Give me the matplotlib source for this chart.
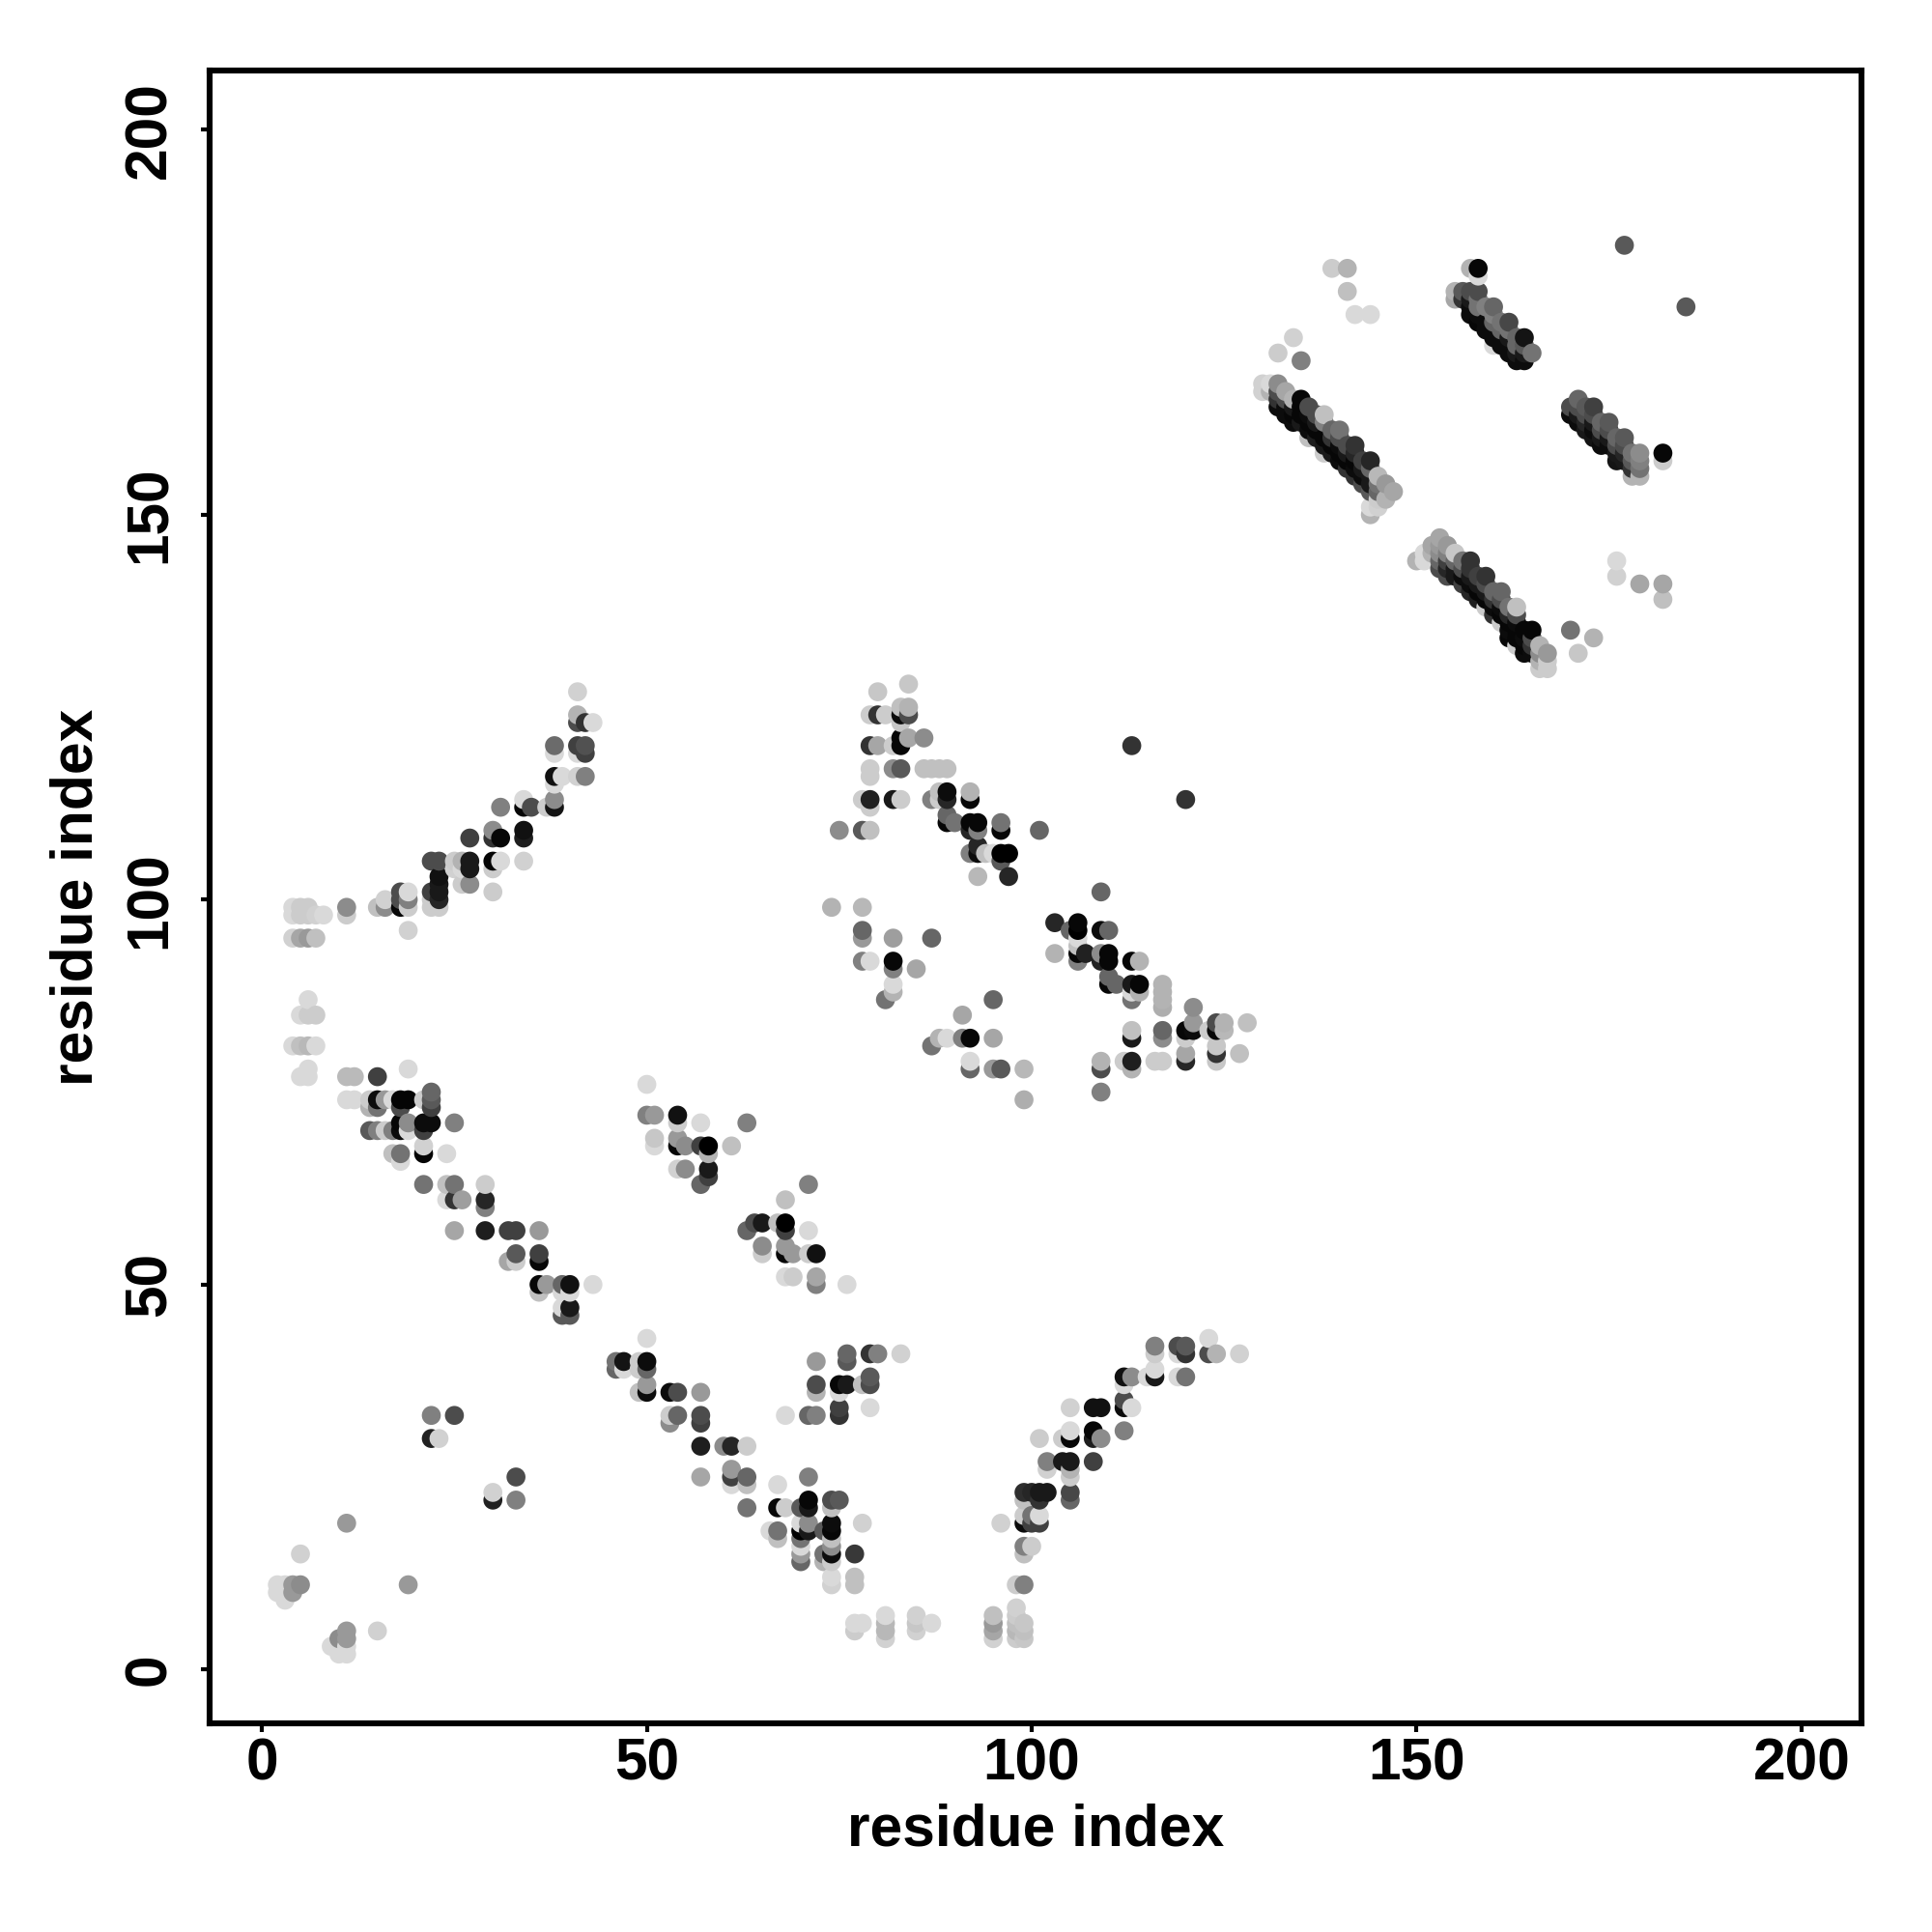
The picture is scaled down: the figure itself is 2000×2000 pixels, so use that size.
import numpy as np
from matplotlib import pyplot as plt

# contacts as (residue i, residue j, grey level)
lower_chain = [
	(6,87,.85),(5,85,.85),(6,85,.8),(7,85,.8),(4,81,.85),(5,81,.75),(6,81,.72),(7,81,.85),
	(5,77,.85),(6,77,.85),(6,78,.85),(11,77,.73),(12,77,.73),(15,77,.25),(19,78,.85),
	(11,74,.85),(12,74,.85),(14,74,.8),(15,74,.05),(16,74,.6),(17,74,.85),(18,74,.02),(19,74,.02),(21,74,.8),(22,74,.35),
	(14,73,.7),(15,73,.45),(18,73,.3),(22,73,.25),(22,75,.4),
	(18,71,.03),(19,71,.55),(21,71,.05),(22,71,.05),(25,71,.5),
	(14,70,.35),(15,70,.5),(16,70,.8),(17,70,.5),(18,70,.05),(19,70,.85),(21,70,.25),
	(17,67,.75),(18,67,.45),(21,67,.02),(24,67,.85),(21,68,.82),(18,66,.85),
	(21,63,.45),(24,63,.75),(25,63,.45),(29,63,.8),(24,61,.85),(25,61,.2),(26,61,.62),(29,61,.15),(29,60,.5),
	(25,57,.65),(29,57,.12),(32,57,.25),(33,57,.25),(36,57,.6),
	(33,54,.35),(36,54,.25),(32,53,.65),(33,53,.8),(36,53,.03),
	(36,50,.03),(37,50,.6),(39,50,.4),(40,50,.07),(43,50,.85),(36,49,.75),(39,49,.85),(40,49,.85),
	(39,47,.85),(40,47,.1),(39,46,.35),(40,46,.35),
]
upper_curve = [
	(41,127,.82),(41,124,.7),(41,123,.3),(42,123,.2),(43,123,.85),
	(38,120,.42),(41,120,.25),(42,120,.32),(38,119,.85),(41,119,.85),(42,119,.25),
	(38,116,.07),(39,116,.85),(41,116,.82),(42,116,.5),(38,115,.85),
	(34,113,.85),(38,113,.55),(31,112,.5),(34,112,.03),(35,112,.3),(37,112,.8),(38,112,.08),
	(30,109,.55),(34,109,.07),(27,108,.25),(30,108,.2),(31,108,.03),(34,108,.12),
	(22,105,.3),(23,105,.3),(25,105,.8),(26,105,.7),(27,105,.1),(30,105,.02),(31,105,.85),(34,105,.82),
	(25,104,.82),(26,104,.85),(27,104,.1),(30,104,.8),(23,103,.07),(26,102,.8),(27,102,.55),
	(22,101,.25),(23,102,.1),(23,101,.1),(30,101,.8),(22,100,.8),(23,100,.15),(22,99,.8),(23,99,.8),
	(19,101,.85),(18,101,.3),(18,100,.3),(18,99,.03),(19,99,.8),(19,100,.5),
	(15,99,.75),(16,99,.55),(16,100,.82),(11,99,.55),(11,98,.8),(19,96,.82),
	(4,99,.85),(4,98,.85),(5,99,.8),(5,98,.8),(6,99,.8),(6,98,.8),(7,98,.82),(8,98,.85),
	(4,95,.82),(5,95,.65),(6,95,.6),(7,95,.75),
]
mid_strand = [
	(50,76,.85),(50,72,.5),(51,72,.6),(54,72,.07),(54,71,.8),(57,71,.85),(63,71,.5),
	(51,69,.78),(51,68,.85),(54,69,.6),(54,68,.03),(55,68,.55),(57,68,.25),(58,68,.0),(61,68,.75),(58,67,.7),
	(54,65,.82),(55,65,.55),(58,65,.1),(58,64,.25),(57,63,.4),(71,63,.5),(68,61,.75),
	(64,58,.3),(65,58,.1),(67,58,.75),(68,58,.0),(68,57,.25),(63,57,.4),(71,57,.85),
	(65,55,.55),(65,54,.8),(68,55,.6),(68,54,.03),(69,54,.6),(71,54,.8),(72,54,.07),
	(68,51,.85),(69,51,.8),(72,51,.65),(72,50,.5),(76,50,.85),
]
lower_left = [
	(22,33,.5),(25,33,.3),(22,30,.13),(23,30,.82),(33,25,.3),(30,23,.82),(30,22,.13),(33,22,.5),
	(11,19,.6),(5,15,.82),(2,11,.85),(3,11,.85),(4,11,.6),(5,11,.55),(2,10,.85),(3,10,.85),(4,10,.6),(3,9,.85),
	(19,11,.6),(15,5,.82),(11,5,.6),(10,4,.55),(11,4,.6),(9,3,.85),(10,3,.85),(11,3,.85),(10,2,.85),(11,2,.85),
]
lower_diag = [
	(50,43,.85),(46,40,.45),(46,39,.4),(47,40,.08),(47,39,.85),(49,40,.8),(50,40,.05),(49,39,.8),(50,39,.4),
	(50,37,.6),(50,36,.05),(49,36,.75),(53,36,.05),(54,36,.3),(57,36,.6),
	(53,33,.8),(53,32,.55),(54,33,.4),(57,33,.3),(57,32,.25),
	(57,29,.12),(60,29,.55),(61,29,.15),(63,29,.8),(57,25,.65),(61,26,.6),(61,25,.25),(61,24,.85),(63,25,.4),(63,24,.75),
	(63,21,.45),(67,24,.85),(71,25,.5),(67,21,.03),(68,21,.8),(70,21,.35),(71,22,.03),(71,21,.1),(74,22,.3),(75,22,.35),(74,21,.75),
	(66,18,.85),(67,18,.45),(67,17,.75),(70,19,.85),(71,19,.55),(70,18,.0),(71,18,.1),(73,18,.35),(74,19,.05),(74,18,.03),
	(70,17,.45),(70,16,.85),(70,15,.6),(70,14,.4),(74,17,.75),(74,16,.55),(74,15,.05),(73,15,.45),(73,14,.7),(74,14,.8),(77,15,.22),(78,19,.82),
	(74,12,.85),(74,11,.82),(77,12,.75),(77,11,.75),(77,6,.85),(78,6,.85),(77,5,.8),
	(81,7,.85),(81,6,.72),(81,5,.72),(81,4,.82),(85,7,.82),(85,6,.78),(85,5,.82),(87,6,.85),
	(72,40,.6),(76,41,.4),(76,40,.35),(79,41,.2),(80,41,.5),(83,41,.82),
	(72,37,.3),(72,36,.7),(75,37,.03),(76,37,.1),(75,36,.85),(78,37,.75),(79,38,.35),(79,37,.3),(79,34,.85),
	(75,34,.25),(75,33,.2),(71,33,.4),(72,33,.5),(68,33,.85),
]
lower_arc = [
	(127,41,.82),(124,41,.7),(123,43,.85),(123,41,.3),(120,42,.35),(119,42,.3),(120,41,.2),(119,41,.85),
	(116,42,.5),(116,41,.8),(120,38,.45),(119,38,.85),(116,39,.85),(116,38,.1),(115,38,.85),
	(113,38,.55),(112,38,.07),(112,37,.85),(112,35,.3),(112,34,.05),(113,34,.85),(112,31,.5),
	(109,34,.07),(108,34,.07),(105,34,.82),(108,31,.03),(108,30,.12),(109,30,.55),
	(105,31,.85),(105,30,.03),(104,30,.8),(101,30,.8),(108,27,.25),(105,27,.1),(104,27,.1),(102,27,.5),(102,26,.82),(105,26,.7),(105,25,.8),
	(105,23,.28),(105,22,.4),(102,23,.1),(101,23,.1),(100,23,.15),(99,23,.18),(101,22,.2),(99,22,.75),
	(99,20,.8),(101,20,.85),(100,20,.45),(99,19,.05),(100,19,.25),(101,19,.25),(96,19,.82),
	(99,16,.5),(100,16,.8),(99,15,.75),(98,11,.8),(99,11,.5),
	(95,7,.75),(95,6,.6),(95,5,.65),(95,4,.82),(98,8,.82),(98,7,.8),(98,6,.75),(98,5,.72),(98,4,.8),(99,6,.78),(99,5,.75),(99,4,.78),
]
upper_mid = [
	(84,128,.78),(80,127,.78),(79,124,.8),(80,124,.2),(81,124,.8),(83,125,.75),(84,125,.7),(83,124,.05),(84,124,.3),(83,123,.78),
	(83,121,.03),(84,121,.65),(86,121,.55),(83,120,.03),(79,120,.2),(80,120,.65),(82,120,.8),
	(79,117,.8),(79,116,.8),(82,117,.55),(83,117,.35),(86,117,.75),(87,117,.75),(88,117,.75),(89,117,.75),
	(89,114,.05),(88,114,.75),(89,113,.15),(87,113,.5),(88,113,.8),(92,114,.7),(92,113,.03),
	(78,113,.8),(79,113,.13),(79,112,.8),(82,113,.1),(83,113,.8),
	(89,111,.4),(90,110,.45),(89,110,.03),(92,110,.03),(93,110,.03),(92,109,.15),(93,109,.5),(96,110,.45),(96,109,.03),(101,109,.4),
	(75,109,.55),(78,109,.35),(79,109,.75),(93,107,.15),(92,106,.5),(93,106,.05),(94,106,.75),(95,106,.85),(96,106,.0),(97,106,.0),(96,105,.35),
	(93,103,.72),(97,103,.15),(113,120,.2),(120,113,.2),(74,99,.7),(78,99,.72),(109,101,.4),
	(78,96,.4),(78,95,.6),(82,95,.62),(87,95,.4),(103,97,.15),(106,97,.03),(105,96,.4),(106,96,.0),(109,96,.05),(110,96,.4),
	(106,95,.85),(106,94,.75),(103,93,.7),(106,93,.03),(107,93,.13),(109,93,.55),(110,93,.03),(110,92,.03),(109,92,.13),(106,92,.5),(113,92,.03),(114,92,.7),
	(78,92,.5),(79,92,.85),(82,92,.03),(82,91,.5),(85,91,.65),(82,89,.85),(82,88,.7),(81,87,.45),
	(110,90,.4),(111,89,.4),(110,89,.03),(113,89,.1),(114,89,.03),(113,88,.85),(114,88,.7),(113,87,.45),(117,89,.7),(117,88,.7),(117,87,.7),(117,86,.68),
	(121,86,.55),(121,84,.6),(124,84,.3),(125,84,.7),(128,84,.75),(125,83,.72),(124,83,.03),(123,83,.8),(120,83,.03),(121,83,.05),(120,82,.8),
	(117,83,.4),(117,82,.55),(113,83,.75),(113,82,.1),(120,80,.65),(120,79,.15),(124,81,.78),(124,80,.2),(124,79,.78),(127,80,.75),
	(113,79,.12),(112,79,.8),(116,79,.8),(117,79,.8),(113,78,.7),(109,79,.7),(109,78,.3),(109,75,.5),
	(95,87,.4),(91,85,.65),(88,82,.7),(87,81,.45),(89,82,.85),(91,82,.5),(92,82,.03),(95,82,.65),
	(92,79,.85),(92,78,.4),(95,78,.6),(96,78,.35),(99,78,.72),(99,74,.68),
]
band_one = [
	(132,171,.8),(135,170,.5),(134,173,.82),(139,182,.8),(141,182,.7),(141,179,.75),(142,176,.85),(144,176,.85),
	(130,167,.82),(130,166,.82),(131,167,.85),(131,166,.7),
	(132,167,.55),(132,166,.3),(132,165,.2),(132,164,.05),(133,166,.65),(133,165,.3),(133,164,.05),(133,163,.05),
	(134,165,.7),(134,164,.1),(134,163,.03),(134,162,.05),(135,165,.03),(135,164,.03),(135,163,.03),(135,162,.1),
	(136,164,.3),(136,163,.05),(136,162,.03),(136,161,.05),(136,160,.75),(137,163,.3),(137,162,.1),(137,161,.03),(137,160,.12),
	(138,163,.75),(138,162,.5),(138,160,.03),(138,159,.1),(138,158,.8),(139,161,.4),(139,160,.2),(139,159,.03),(139,158,.1),
	(140,161,.45),(140,160,.3),(140,159,.05),(140,158,.03),(140,157,.05),(141,159,.3),(141,158,.1),(141,157,.03),(141,156,.2),
	(142,159,.2),(142,158,.15),(142,157,.03),(142,156,.05),(142,155,.2),(143,157,.25),(143,156,.1),(143,155,.05),(143,154,.3),
	(144,157,.15),(144,156,.4),(144,155,.1),(144,154,.1),(144,153,.35),(145,155,.72),(145,154,.45),(145,153,.4),(145,152,.8),
	(146,154,.6),(147,153,.65),(146,152,.7),(145,151,.82),(144,151,.85),(144,150,.7),
]
band_two = [
	(150,144,.7),(151,145,.85),(151,144,.85),(152,146,.65),(152,145,.7),
	(153,147,.65),(153,146,.6),(153,145,.55),(153,144,.4),(153,143,.3),(154,146,.6),(154,145,.5),(154,144,.25),(154,143,.15),(154,142,.3),
	(155,145,.78),(155,144,.4),(155,143,.1),(155,142,.1),(156,144,.45),(156,143,.3),(156,142,.05),(156,141,.25),
	(157,144,.2),(157,143,.2),(157,142,.1),(157,141,.05),(157,140,.15),(158,142,.25),(158,141,.1),(158,140,.03),(158,139,.12),
	(159,142,.2),(159,141,.3),(159,140,.1),(159,139,.03),(159,138,.8),(160,140,.4),(160,139,.2),(160,138,.05),(160,137,.2),
	(161,140,.4),(161,139,.3),(161,138,.05),(161,137,.03),(161,136,.8),(162,138,.45),(162,137,.15),(162,136,.03),(162,135,.05),(162,134,.03),
	(163,138,.75),(163,137,.3),(163,136,.05),(163,135,.03),(163,134,.03),(163,133,.8),(164,135,.03),(164,134,.05),(164,133,.03),(164,132,.05),
	(165,135,.03),(165,134,.3),(165,133,.2),(165,132,.05),(166,133,.7),(166,132,.55),(166,131,.7),(166,130,.8),(167,132,.6),(167,131,.8),(167,130,.8),
	(170,135,.45),(173,134,.7),(171,132,.78),(176,144,.85),(176,142,.82),(179,141,.65),(182,141,.65),(182,139,.75),
]
band_three = [
	(177,185,.35),(185,177,.35),(157,182,.7),(158,182,.03),(158,181,.85),
	(155,179,.7),(155,178,.65),(156,179,.35),(156,178,.2),(157,179,.3),(157,178,.1),(157,177,.05),(157,176,.05),
	(158,179,.3),(158,178,.45),(158,177,.45),(158,176,.05),(158,175,.03),(159,177,.5),(159,175,.05),(159,174,.05),
	(160,177,.4),(160,176,.5),(160,175,.4),(160,174,.05),(160,173,.05),(160,172,.85),(161,175,.45),(161,174,.4),(161,173,.05),(161,172,.05),
	(162,175,.28),(162,174,.45),(162,173,.1),(162,172,.05),(162,171,.05),(163,173,.4),(163,172,.4),(163,171,.1),(163,170,.05),
	(164,173,.08),(164,172,.35),(164,171,.1),(164,170,.05),(165,171,.45),
]
band_four = [
	(170,164,.3),(170,163,.05),(171,165,.4),(171,164,.3),(171,163,.1),(171,162,.05),(172,164,.35),(172,163,.3),(172,162,.15),(172,161,.1),
	(173,164,.25),(173,163,.3),(173,162,.1),(173,161,.05),(173,160,.08),(174,162,.4),(174,161,.3),(174,160,.1),(174,159,.05),
	(175,162,.35),(175,161,.3),(175,160,.1),(175,159,.05),(176,160,.4),(176,159,.3),(176,158,.1),(176,157,.08),
	(177,160,.35),(177,159,.3),(177,158,.15),(177,157,.1),(178,158,.45),(178,157,.35),(178,156,.2),(178,155,.7),
	(179,158,.55),(179,157,.5),(179,156,.45),(179,155,.7),(182,158,.03),(182,157,.8),
]

x_ticks = [0, 50, 100, 150, 200]
y_ticks = [0, 50, 100, 150, 200]

plt.rcParams['font.family'] = ['Liberation Sans', 'DejaVu Sans']
plt.rcParams['font.weight'] = 'bold'

fig = plt.figure(figsize=(10, 10), dpi=200)
ax = fig.add_axes([0.1085, 0.108, 0.855, 0.8555])

pts = np.array(lower_chain + upper_curve + mid_strand + lower_left + lower_diag
	+ lower_arc + upper_mid + band_one + band_two + band_three + band_four)
order = np.lexsort((pts[:, 1], pts[:, 0])) # i first, then j, as the overlaps show
pts = pts[order]

ax.scatter(pts[:, 0], pts[:, 1], c=pts[:, 2], cmap='gray', vmin=0, vmax=1, s=50, linewidths=0)

ax.set_xlim(-6.8, 207.8)
ax.set_ylim(-7, 207.7)
ax.set_xticks(x_ticks)
ax.set_yticks(y_ticks)
ax.tick_params(axis='both', length=3.2, width=1.5, labelsize=21.8)
ax.tick_params(axis='x', pad=2)
ax.tick_params(axis='y', pad=8.5)
for lab in ax.get_yticklabels():
	lab.set_rotation(90)
	lab.set_va('center')

for s in ax.spines.values():
	s.set_linewidth(2.2)

ax.set_xlabel('residue index', fontsize=21.8, fontweight='bold', labelpad=4)
ax.set_ylabel('residue index', fontsize=21.8, fontweight='bold', labelpad=7)

fig.savefig('out.png', dpi=200)
